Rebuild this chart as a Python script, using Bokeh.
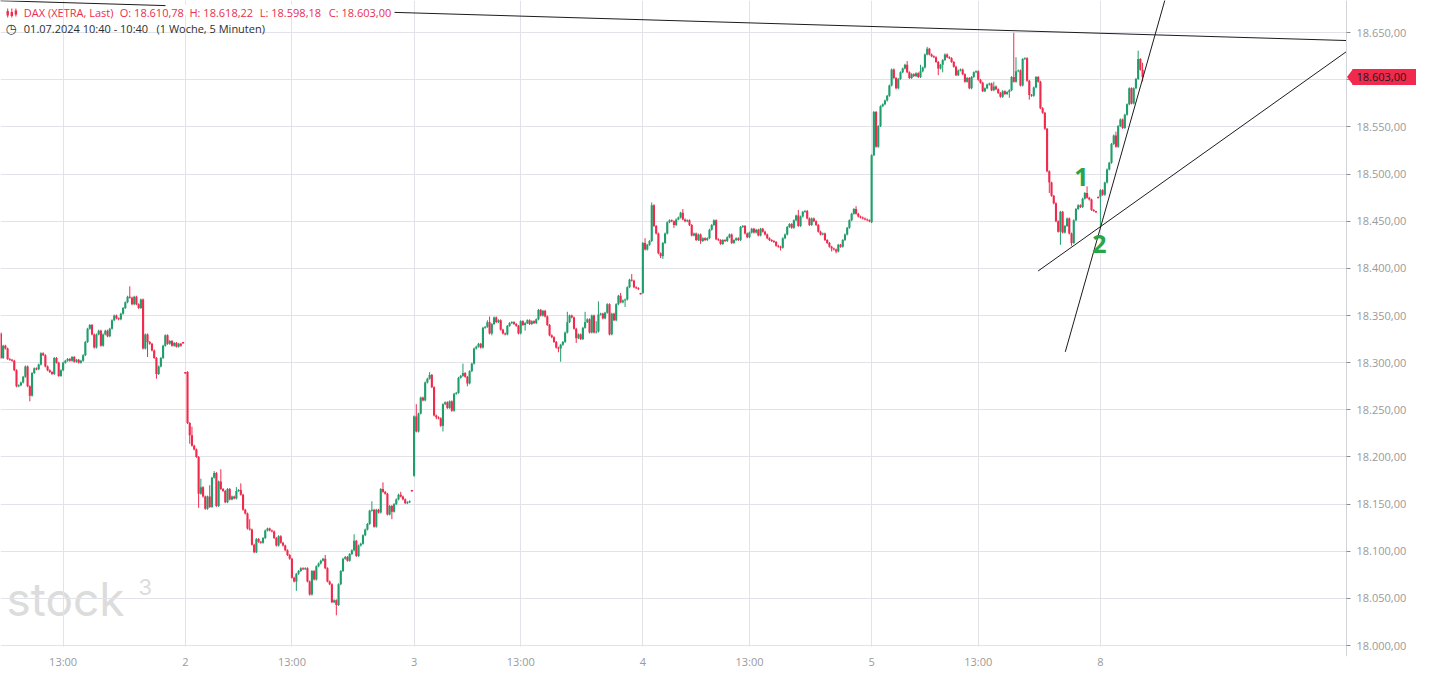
from bokeh.plotting import figure
from bokeh.models import Range1d, Label, BoxAnnotation, PolyAnnotation, ColumnDataSource
from bokeh.embed import file_html
from bokeh.resources import INLINE

# ---------------- data ----------------
SLOTS_PER_DAY = 103          # 5-minute candles 09:00 ... 17:30
day_labels = ["1", "2", "3", "4", "5", "8"]
day_first_slot = [20, 0, 0, 0, 0, 0]
day_first_open = [18331.0, 18290.0, 18180.0, 18374.0, 18449.0, 18476.0]

close_jul01 = [18305, 18318, 18315, 18304, 18303, 18302, 18292, 18275, 18276, 18279,
               18285, 18296, 18275, 18265, 18289, 18294, 18293, 18298, 18310, 18308,
               18296, 18292, 18290, 18288, 18305, 18300, 18286, 18292, 18300, 18302,
               18304, 18302, 18306, 18301, 18303, 18300, 18302, 18308, 18322, 18336,
               18340, 18330, 18316, 18330, 18334, 18318, 18330, 18334, 18328, 18336,
               18345, 18350, 18347, 18346, 18352, 18358, 18364, 18370, 18369, 18362,
               18370, 18362, 18358, 18367, 18315, 18330, 18322, 18320, 18313, 18305,
               18288, 18296, 18305, 18318, 18329, 18320, 18323, 18318, 18321, 18317,
               18320, 18318, 18322]
close_jul02 = [18290, 18236, 18223, 18212, 18208, 18200, 18161, 18168, 18158, 18145,
               18158, 18147, 18178, 18183, 18148, 18174, 18166, 18164, 18152, 18166,
               18155, 18158, 18156, 18164, 18165, 18160, 18144, 18140, 18124, 18123,
               18107, 18099, 18113, 18110, 18109, 18114, 18122, 18124, 18122, 18121,
               18114, 18106, 18116, 18109, 18106, 18101, 18096, 18092, 18072, 18068,
               18076, 18079, 18082, 18081, 18082, 18068, 18054, 18079, 18070, 18084,
               18087, 18090, 18092, 18082, 18068, 18065, 18046, 18048, 18043, 18065,
               18079, 18092, 18094, 18090, 18097, 18101, 18111, 18095, 18106, 18108,
               18117, 18123, 18129, 18143, 18144, 18126, 18144, 18141, 18166, 18163,
               18161, 18139, 18148, 18142, 18150, 18155, 18160, 18158, 18155, 18151,
               18152, 18153, 18165]
close_jul03 = [18243, 18227, 18246, 18263, 18260, 18279, 18283, 18287, 18274, 18244,
               18242, 18241, 18233, 18256, 18258, 18252, 18259, 18249, 18267, 18268,
               18284, 18286, 18289, 18285, 18278, 18291, 18299, 18315, 18317, 18320,
               18316, 18337, 18338, 18343, 18331, 18341, 18348, 18343, 18345, 18335,
               18331, 18330, 18339, 18342, 18343, 18341, 18339, 18331, 18344, 18340,
               18342, 18345, 18341, 18344, 18342, 18346, 18356, 18350, 18355, 18349,
               18340, 18329, 18327, 18322, 18316, 18315, 18319, 18322, 18332, 18343,
               18350, 18348, 18336, 18326, 18330, 18325, 18337, 18343, 18346, 18332,
               18350, 18332, 18333, 18351, 18352, 18347, 18353, 18362, 18330, 18352,
               18345, 18362, 18371, 18364, 18366, 18367, 18380, 18388, 18387, 18380,
               18379, 18378, 18374]
close_jul04 = [18427, 18420, 18425, 18429, 18467, 18445, 18437, 18416, 18413, 18427,
               18437, 18449, 18451, 18450, 18446, 18452, 18454, 18459, 18452, 18450,
               18451, 18446, 18435, 18437, 18430, 18436, 18429, 18432, 18430, 18432,
               18441, 18446, 18451, 18431, 18430, 18426, 18430, 18429, 18433, 18436,
               18427, 18430, 18432, 18430, 18444, 18445, 18437, 18433, 18438, 18442,
               18438, 18441, 18435, 18442, 18439, 18436, 18432, 18430, 18429, 18428,
               18424, 18423, 18422, 18432, 18436, 18444, 18447, 18443, 18451, 18456,
               18445, 18455, 18460, 18461, 18453, 18446, 18453, 18450, 18446, 18439,
               18436, 18437, 18430, 18427, 18423, 18421, 18420, 18418, 18425, 18423,
               18430, 18436, 18443, 18451, 18458, 18463, 18458, 18455, 18454, 18453,
               18452, 18451, 18450]
close_jul05 = [18520, 18566, 18529, 18551, 18572, 18574, 18578, 18583, 18594, 18611,
               18602, 18591, 18601, 18608, 18612, 18616, 18608, 18602, 18606, 18604,
               18607, 18603, 18609, 18613, 18627, 18633, 18627, 18625, 18624, 18619,
               18612, 18616, 18621, 18627, 18624, 18623, 18619, 18614, 18605, 18610,
               18611, 18606, 18598, 18602, 18591, 18603, 18608, 18609, 18600, 18597,
               18588, 18591, 18595, 18596, 18589, 18593, 18590, 18586, 18582, 18588,
               18585, 18587, 18589, 18603, 18598, 18609, 18610, 18594, 18622, 18623,
               18599, 18584, 18583, 18592, 18603, 18598, 18570, 18565, 18548, 18503,
               18491, 18477, 18469, 18450, 18439, 18460, 18438, 18445, 18453, 18437,
               18427, 18451, 18463, 18467, 18465, 18474, 18480, 18475, 18473, 18462,
               18461, 18461, 18476]
close_jul08 = [18483, 18478, 18491, 18505, 18512, 18532, 18541, 18529, 18551, 18558,
               18549, 18563, 18574, 18591, 18575, 18591, 18601, 18622, 18610.78, 18603.00]

open_marks = {102: 18322, 205: 18165, 308: 18374, 514: 18476}
high_marks = {78: 18381, 106: 18232, 110: 18177, 114: 18170, 116: 18185, 119: 18187,
              126: 18168, 128: 18172, 132: 18134, 166: 18096, 179: 18118, 187: 18153,
              192: 18173, 200: 18163, 207: 18256, 213: 18290, 228: 18299, 239: 18345,
              240: 18349, 275: 18354, 283: 18354, 288: 18344, 289: 18365, 299: 18374,
              304: 18394, 310: 18432, 313: 18470, 327: 18463, 379: 18462, 405: 18466,
              428: 18620, 434: 18616, 437: 18635, 467: 18598, 476: 18650, 477: 18624,
              509: 18487, 522: 18545, 532: 18631, 534: 18618.22}
low_marks = {33: 18259, 86: 18306, 90: 18283, 105: 18214, 109: 18146, 153: 18058,
             171: 18032, 196: 18134, 216: 18240, 219: 18227, 230: 18275, 241: 18329,
             256: 18334, 271: 18311, 272: 18301, 279: 18321, 301: 18359, 317: 18411,
             318: 18410, 323: 18443, 335: 18426, 371: 18419, 394: 18418, 396: 18416,
             442: 18605, 444: 18608, 474: 18581, 483: 18579, 492: 18480, 497: 18425,
             502: 18424, 515: 18443, 534: 18598.18}

x_tick_slots = [48, 103, 151, 206, 254, 309, 357, 412, 460, 515]
x_tick_labels = ["13:00", "2", "13:00", "3", "13:00", "4", "13:00", "5", "13:00", "8"]
y_ticks = list(range(18000, 18651, 50))

# hand-drawn trend lines (slot, price), ending at the price scale, and the two chart notes
PRICE_SCALE_SLOT = 625.8
trend_top = ([10, PRICE_SCALE_SLOT], [18684.6, 18641.7])
trend_steep = ([499.2, 544.6], [18311.5, 18689.3])
trend_flat = ([486.96, PRICE_SCALE_SLOT], [18397.25, 18630.0])
note_texts = ["1", "2"]
note_slots = [506.5, 514.5]
note_prices = [18496.8, 18425.4]

title = "DAX (XETRA, Last)"
period = "01.07.2024 10:40 - 10:40"
period_note = "(1 Woche, 5 Minuten)"

GREEN = "#1f9e6b"
RED = "#f0294d"
GRID = "#e2e2e9"
AXIS_TXT = "#9a9a9a"


def de(v):
    s = f"{v:,.2f}"
    return s.replace(",", "_").replace(".", ",").replace("_", ".")


# ---------------- candles ----------------
xs, tops, bottoms, his, los, cols, opens, closes = [], [], [], [], [], [], [], []
prev = None
for d, cl in enumerate([close_jul01, close_jul02, close_jul03, close_jul04, close_jul05, close_jul08]):
    for k, c in enumerate(cl):
        i = d * SLOTS_PER_DAY + day_first_slot[d] + k
        o = day_first_open[d] if k == 0 else prev
        o = open_marks.get(i, o)
        top, bot = max(o, c), min(o, c)
        flat = (top - bot) < 1.0
        if flat:
            bot = top - 1.6
        hi = high_marks.get(i, top if flat else top + 1.0)
        lo = low_marks.get(i, bot if flat else bot - 1.0)
        xs.append(i); tops.append(top); bottoms.append(bot)
        his.append(hi); los.append(lo)
        cols.append(GREEN if c > o else RED)
        opens.append(o); closes.append(c)
        prev = c

src = ColumnDataSource(dict(x=xs, top=tops, bottom=bottoms, hi=his, lo=los, color=cols))

# frame covers the whole canvas; the price scale sits on a fixed location inside it
FRAME_W, FRAME_H = 1416, 656
CHART_W = 1346                       # width of the candle area (left of the price scale)
PX_PER_POINT = 0.94279
Y_TOP = 18684.16
Y_BOTTOM = Y_TOP - FRAME_H / PX_PER_POINT
X0 = 19.8
X1 = X0 + (PRICE_SCALE_SLOT - X0) * FRAME_W / CHART_W
p = figure(frame_width=FRAME_W, frame_height=FRAME_H,
           x_range=Range1d(X0, X1), y_range=Range1d(Y_BOTTOM, Y_TOP),
           y_axis_location="right", output_backend="svg", toolbar_location=None,
           min_border_left=0, min_border_top=0, min_border_right=0, min_border_bottom=15)
p.outline_line_color = None
p.background_fill_color = "white"
p.border_fill_color = "white"

p.segment(x0="x", y0="lo", x1="x", y1="hi", line_color="color", line_width=1, source=src)
p.vbar(x="x", width=0.95, top="top", bottom="bottom", fill_color="color", line_color=None, source=src)

for lx, ly in (trend_top, trend_steep, trend_flat):
    p.line(lx, ly, line_color="#1c1c1c", line_width=1)

# axes
p.xaxis.ticker = x_tick_slots
p.xaxis.major_label_overrides = {t: s for t, s in zip(x_tick_slots, x_tick_labels)}
p.xaxis.major_tick_out = 0
p.xaxis.major_tick_in = 0
p.xaxis.major_tick_line_color = None
p.xaxis.minor_tick_line_color = None
p.xaxis.axis_line_color = None
p.xaxis.major_label_standoff = -3
p.xaxis.major_label_text_font = "Open Sans"
p.xaxis.major_label_text_font_size = "11px"
p.xaxis.major_label_text_color = AXIS_TXT

p.yaxis.fixed_location = PRICE_SCALE_SLOT
p.yaxis.ticker = y_ticks
p.yaxis.major_label_overrides = {t: de(t) for t in y_ticks}
p.yaxis.major_tick_out = 4
p.yaxis.major_tick_in = 0
p.yaxis.major_tick_line_color = "#8c8c8c"
p.yaxis.minor_tick_line_color = None
p.yaxis.axis_line_color = "#d3d3db"
p.yaxis.major_label_standoff = 6
p.yaxis.major_label_text_font = "Open Sans"
p.yaxis.major_label_text_font_size = "11px"
p.yaxis.major_label_text_color = AXIS_TXT

p.xgrid.grid_line_color = GRID
p.ygrid.grid_line_color = GRID


def top_y(yt):
    return FRAME_H - yt


# blank the grid behind the price scale and below the lowest price line
p.add_layout(BoxAnnotation(left=CHART_W + 0.5, right=FRAME_W, left_units="screen", right_units="screen",
                           fill_color="white", fill_alpha=1, line_color=None, level="underlay"))
p.add_layout(BoxAnnotation(top=y_ticks[0] - 1.0, fill_color="white", fill_alpha=1,
                           line_color=None, level="underlay"))

# watermark (below grid)
p.add_layout(Label(x=6, y=top_y(598), x_units="screen", y_units="screen", text="stock",
                   text_font="Inter", text_font_size="46px", text_color="#dcdcdc",
                   text_baseline="middle", level="image"))
p.add_layout(Label(x=138, y=top_y(586), x_units="screen", y_units="screen", text="3",
                   text_font="Inter", text_font_size="22px", text_color="#dcdcdc",
                   text_baseline="middle", level="image"))

# header background (hides the top trend line behind the header text)
p.add_layout(BoxAnnotation(left=165, right=394, top=top_y(4), bottom=top_y(15),
                           left_units="screen", right_units="screen", top_units="screen",
                           bottom_units="screen", fill_color="white", fill_alpha=1, line_color=None))

# candle icon
for (l, r, t, b) in [(6.7, 7.7, 8, 17), (6.0, 8.4, 10.5, 15),
                     (10.8, 11.8, 8, 17), (10.1, 12.5, 11.5, 15.5),
                     (14.9, 15.9, 8, 16), (14.2, 16.6, 10, 14)]:
    p.add_layout(BoxAnnotation(left=l, right=r, top=top_y(t), bottom=top_y(b),
                               left_units="screen", right_units="screen", top_units="screen",
                               bottom_units="screen", fill_color=RED, fill_alpha=1, line_color=None))

last_o, last_c = opens[-1], closes[-1]
last_h, last_l = his[-1], los[-1]
hdr = [(title, 23.3), ("O: " + de(last_o), 119.3), ("H: " + de(last_h), 189.0),
       ("L: " + de(last_l), 259.3), ("C: " + de(last_c), 328.3)]
for txt, hx in hdr:
    p.add_layout(Label(x=hx, y=top_y(12.2), x_units="screen", y_units="screen", text=txt,
                       text_font="Open Sans", text_font_size="11px", text_color="#ea2d4d",
                       text_baseline="middle"))

p.add_layout(Label(x=5, y=top_y(27.5), x_units="screen", y_units="screen", text="\u25F7",
                   text_font="DejaVu Sans", text_font_size="13px", text_color="#333333",
                   text_baseline="middle"))
p.add_layout(Label(x=23.3, y=top_y(27.5), x_units="screen", y_units="screen", text=period,
                   text_font="Open Sans", text_font_size="11px", text_color="#2e2e2e",
                   text_baseline="middle"))
p.add_layout(Label(x=156, y=top_y(27.5), x_units="screen", y_units="screen", text=period_note,
                   text_font="Open Sans", text_font_size="11px", text_color="#2e2e2e",
                   text_baseline="middle"))

# chart notes "1" and "2"
for t, sx, sy in zip(note_texts, note_slots, note_prices):
    p.add_layout(Label(x=sx, y=sy, text=t, text_align="center", text_baseline="middle",
                       text_font="Open Sans", text_font_style="bold", text_font_size="25px",
                       text_color="#28a547"))

# current price badge on the price scale
half = 8.4
p.add_layout(BoxAnnotation(left=CHART_W + 6, right=FRAME_W, top=last_c + half, bottom=last_c - half,
                           left_units="screen", right_units="screen", fill_color=RED, fill_alpha=1,
                           line_color=None))
p.add_layout(PolyAnnotation(xs=[CHART_W + 0.5, CHART_W + 6.5, CHART_W + 6.5],
                            ys=[last_c, last_c + half, last_c - half],
                            xs_units="screen", ys_units="data", fill_color=RED, fill_alpha=1,
                            line_color=None))
p.add_layout(Label(x=CHART_W + 10, y=last_c, x_units="screen", text=de(last_c),
                   text_font="Open Sans", text_font_size="11px", text_color="#1a1a1a",
                   text_baseline="middle"))

open("out.html", "w").write(file_html(p, INLINE))
